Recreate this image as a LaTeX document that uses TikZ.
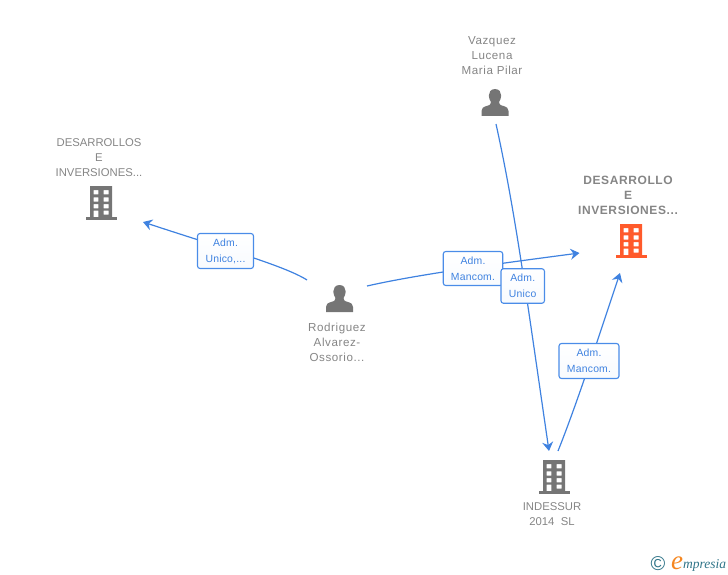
\documentclass[tikz,border=0pt]{standalone}
\usepackage{fontspec}
\setmainfont{Liberation Sans}
\usetikzlibrary{arrows.meta}
\newfontfamily\logofont{Liberation Serif}
\definecolor{edgeblue}{HTML}{3F82E0}
\definecolor{tagblue}{HTML}{4A8CE8}
\definecolor{labelgrey}{HTML}{858585}
\definecolor{icongrey}{HTML}{757575}
\definecolor{iconorange}{HTML}{FF5A2B}
\definecolor{logoteal}{HTML}{2F7488}
\definecolor{logoorange}{HTML}{F5861F}
\tikzset{
  x=1pt,y=-1pt,
  edge/.style={draw=edgeblue,line width=1.2pt,-{Stealth[length=9pt,width=11pt,inset=3pt]}},
  tag/.style={draw=tagblue,line width=1.1pt,rounded corners=2.5pt,top color=white,bottom color=white!96!tagblue,text=edgeblue,
     font=\fontsize{10.4}{16}\selectfont\addfontfeature{LetterSpace=2},align=center,inner sep=0pt},
  entity/.style={text=labelgrey,font=\fontsize{11.3}{15}\selectfont,align=center,inner sep=0pt},
  lowerentity/.style={text=labelgrey,font=\fontsize{11.6}{15}\selectfont\addfontfeature{LetterSpace=5},align=center,inner sep=0pt},
  mainentity/.style={text=labelgrey,font=\fontsize{12}{15}\selectfont\bfseries\addfontfeature{LetterSpace=5},align=center,inner sep=0pt},
  pics/building/.style={code={
    \fill[#1,even odd rule]
      (-11,-17) rectangle (11,14)
      (-7.5,-13) rectangle (-2.7,-8.7) (2.5,-13) rectangle (7.5,-8.7)
      (-7.5,-5.7) rectangle (-2.7,-1.3) (2.5,-5.7) rectangle (7.5,-1.3)
      (-7.5,1) rectangle (-2.7,5.3) (2.5,1) rectangle (7.5,5.3)
      (-7.5,7.5) rectangle (-2.7,14) (2.5,7.5) rectangle (7.5,11.5);
    \fill[#1] (-15.5,14) rectangle (15.5,17);
  }},
  pics/person/.style={code={
    \fill[#1] (0,-14) .. controls (-4.5,-14) and (-6.2,-10.5) .. (-6.2,-7.5)
      .. controls (-6.2,-4.5) and (-5,-2.5) .. (-4,-1)
      .. controls (-4,1.5) and (-5,2) .. (-8.5,3)
      .. controls (-12,4) and (-13.5,5.5) .. (-13.5,8)
      -- (-13.5,13) -- (13.5,13) -- (13.5,8)
      .. controls (13.5,5.5) and (12,4) .. (8.5,3)
      .. controls (5,2) and (4,1.5) .. (4,-1)
      .. controls (5,-2.5) and (6.2,-4.5) .. (6.2,-7.5)
      .. controls (6.2,-10.5) and (4.5,-14) .. (0,-14) -- cycle;
  }}
}
\begin{document}
\begin{tikzpicture}
\useasboundingbox (0,0) rectangle (728,575);
% named connector ends
\coordinate (rodL) at (307,280);
\coordinate (rodR) at (367,286);
\coordinate (vazB) at (496,124);
\coordinate (indT) at (549,451);
\coordinate (indR) at (558,451);
\coordinate (desL) at (143,222);
\coordinate (mainL) at (579.5,253);
\coordinate (mainB) at (620,273);
% connectors
\draw[edge] (rodL) .. controls (285,266) and (225,249) .. (desL);
\draw[edge] (rodR) .. controls (420,274) and (500,263.5) .. (mainL);
\draw[edge] (vazB) .. controls (515,210) and (527,300) .. (indT);
\draw[edge] (indR) .. controls (576,406) and (597,342) .. (mainB);
% relation labels
\node[tag,minimum width=56pt,minimum height=35pt] (t1) at (225.5,251) {Adm.\\Unico,...};
\node[tag,minimum width=59.5pt,minimum height=34pt] (t2) at (473,268.5) {Adm.\\Mancom.};
\node[tag,minimum width=43.5pt,minimum height=34.5pt] (t3) at (522.7,286) {Adm.\\Unico};
\node[tag,minimum width=60pt,minimum height=35pt] (t4) at (589,361) {Adm.\\Mancom.};
% icons
\pic at (101,203) {building={icongrey}};
\pic at (631,241) {building={iconorange}};
\pic at (554,477) {building={icongrey}};
\pic at (339.5,299) {person={icongrey}};
\pic at (495,103) {person={icongrey}};
% names
\node[entity] (n1) at (99,158) {DESARROLLOS\\E\\INVERSIONES...};
\node[mainentity] (n2) at (628,195) {DESARROLLO\\E\\INVERSIONES...};
\node[entity] (n3) at (552,514) {INDESSUR\\2014\ \ SL};
\node[lowerentity] (n4) at (337,342.5) {Rodriguez\\Alvarez-\\Ossorio...};
\node[lowerentity] (n5) at (492,55.5) {Vazquez\\Lucena\\Maria Pilar};
% logo
\node[text=logoteal,inner sep=0pt,font=\fontsize{20}{20}\selectfont] (lc) at (658,564) {©};
\node[text=logoorange,inner sep=0pt,font=\logofont\itshape\fontsize{27}{27}\selectfont] (le) at (677,563) {e};
\node[text=logoteal,inner sep=0pt,anchor=west,font=\logofont\itshape\fontsize{13.5}{14}\selectfont] (lm) at (683,565) {mpresia};
\end{tikzpicture}
\end{document}
